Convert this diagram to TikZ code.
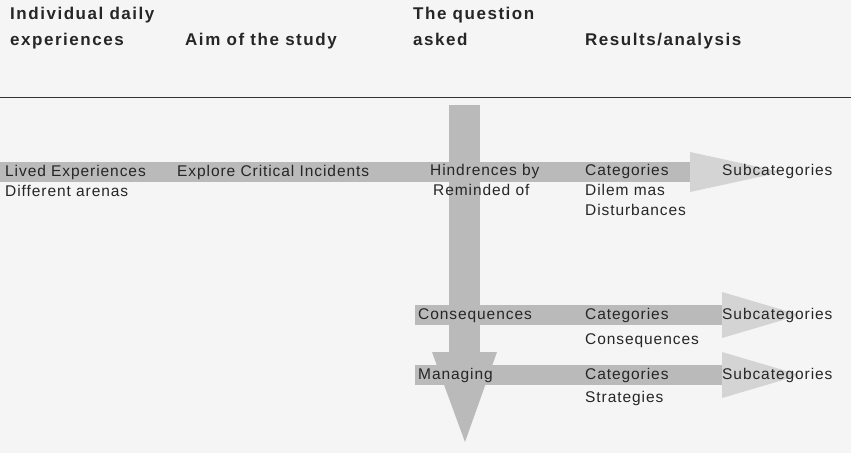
\documentclass[tikz,border=0pt]{standalone}
\usepackage{fontspec}
\setmainfont{Liberation Sans}[LetterSpace=6]
\usetikzlibrary{positioning}

\begin{document}
\begin{tikzpicture}[x=1pt,y=-1pt,
  font=\fontsize{15.5}{18}\selectfont,
  hd/.style={anchor=west, inner sep=0pt, text height=12pt, text depth=4pt,
             font=\fontsize{17}{18}\selectfont\bfseries\addfontfeature{LetterSpace=9},
             text=black!85},
  txt/.style={anchor=west, inner sep=0pt, text height=12pt, text depth=4pt,
              text=black!85},
  band/.style={fill=black!27},
  head/.style={fill=black!17}
]
  \fill[black!4] (0,0) rectangle (851,453);
  \useasboundingbox (0,0) rectangle (851,453);

  \fill[band] (0,162) rectangle (690,182);
  \fill[head] (690,152) -- (782,172) -- (690,192) -- cycle;
  \fill[band] (415,305) rectangle (722,325);
  \fill[head] (722,292) -- (800,315) -- (722,338) -- cycle;
  \fill[band] (415,365) rectangle (722,385);
  \fill[head] (722,352) -- (800,375) -- (722,398) -- cycle;
  \fill[band] (449,105) rectangle (480,352);
  \fill[band] (432,352) -- (497,352) -- (465,442) -- cycle;

  \node[hd] (indiv) at (10,15) {Individual daily};
  \node[hd, below=10pt of indiv.south west, anchor=north west] (exper) {experiences};
  \node[hd] (aim) at (185,41) {Aim of the study};
  \node[hd] (quest) at (413,15) {The question};
  \node[hd, below=10pt of quest.south west, anchor=north west] (asked) {asked};
  \node[hd] (res) at (585,41) {Results/analysis};
  \draw[black!80, line width=1pt] (0,97) -- (851,97);

  \node[txt] (lived) at (5,172) {Lived Experiences};
  \node[txt, below=4pt of lived.south west, anchor=north west] (arenas) {Different arenas};
  \node[txt] (explore) at (177,172) {Explore Critical Incidents};
  \node[txt] (hind) at (430,171) {Hindrences by};
  \node[txt, below=4pt of hind.south west, anchor=north west, xshift=3pt] (remind) {Reminded of};
  \node[txt] (cat1) at (585,171) {Categories};
  \node[txt, below=4pt of cat1.south west, anchor=north west] (dilem) {Dilem mas};
  \node[txt, below=4pt of dilem.south west, anchor=north west] (dist) {Disturbances};
  \node[txt] (sub1) at (722,171) {Subcategories};

  \node[txt] (cons) at (418,315) {Consequences};
  \node[txt] (cat2) at (585,315) {Categories};
  \node[txt, below=9pt of cat2.south west, anchor=north west] (cons2) {Consequences};
  \node[txt] (sub2) at (722,315) {Subcategories};

  \node[txt] (man) at (418,375) {Managing};
  \node[txt] (cat3) at (585,375) {Categories};
  \node[txt, below=7pt of cat3.south west, anchor=north west] (strat) {Strategies};
  \node[txt] (sub3) at (722,375) {Subcategories};
\end{tikzpicture}
\end{document}
